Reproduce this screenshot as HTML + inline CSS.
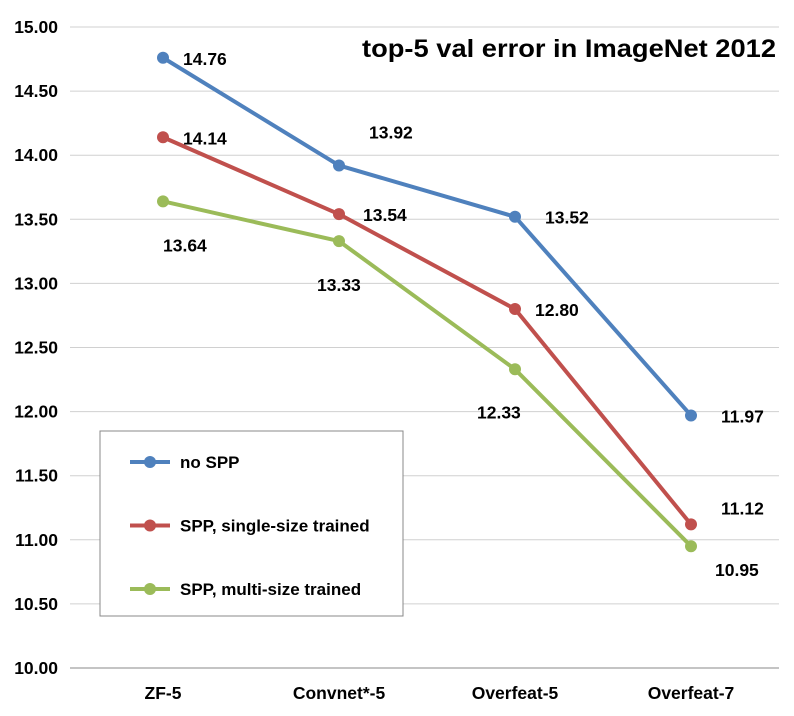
<!DOCTYPE html>
<html><head><meta charset="utf-8"><style>
body{margin:0;background:#fff}
svg text{font-family:"Liberation Sans",sans-serif;font-weight:bold;fill:#000}
</style></head><body>
<svg id="chart" width="794" height="711" xmlns="http://www.w3.org/2000/svg">
<g id="grid"></g>
<g id="yticks"></g>
<g id="xticks"></g>
<g id="series"></g>
<text x="362" y="57" font-size="25" textLength="414" lengthAdjust="spacingAndGlyphs">top-5 val error in ImageNet 2012</text>
<g>
<rect x="100" y="431" width="303" height="185" fill="#fff" stroke="#888" stroke-width="1"/>
<g id="legend"></g>
</g>
</svg>
<script>
const categories=["ZF-5","Convnet*-5","Overfeat-5","Overfeat-7"];
const yTicks=[10,10.5,11,11.5,12,12.5,13,13.5,14,14.5,15];
const noSPP=[14.76,13.92,13.52,11.97];
const sppSingle=[14.14,13.54,12.80,11.12];
const sppMulti=[13.64,13.33,12.33,10.95];
const seriesNames=["no SPP","SPP, single-size trained","SPP, multi-size trained"];
const colors=["#4F81BD","#C0504D","#9BBB59"];
const labelOffsets=[[[20,7],[30,-27],[30,7],[30,7]],[[20,7],[24,7],[20,7],[30,-10]],[[0,50],[-22,50],[-38,49],[24,30]]];
const NS="http://www.w3.org/2000/svg";
const x0=75,x1=779,yTop=27,yBot=668;
const xs=i=>x0+(i+0.5)*(x1-x0)/categories.length;
const ys=v=>yBot-(v-10)/5*(yBot-yTop);
function mk(tag,attrs,parent){const e=document.createElementNS(NS,tag);for(const k in attrs)e.setAttribute(k,attrs[k]);parent.appendChild(e);return e;}
const grid=document.getElementById('grid'),yt=document.getElementById('yticks'),xt=document.getElementById('xticks'),sg=document.getElementById('series'),lg=document.getElementById('legend');
yTicks.forEach(v=>{
 const l=mk('line',{x1:70,x2:x1,y1:ys(v),y2:ys(v),stroke:v===10?'#888':'#d0d0d0','stroke-width':1},grid);
 
 
 const t=mk('text',{x:58,y:ys(v)+6,'text-anchor':'end','font-size':17.5},yt);
 t.textContent=v.toFixed(2);
 
 
});
categories.forEach((c,i)=>{
 const t=mk('text',{x:xs(i),y:699,'text-anchor':'middle','font-size':17.5},xt);
 t.textContent=c;
 
 
});
[noSPP,sppSingle,sppMulti].forEach((d,s)=>{
 const g=mk('g',{},sg);
 
 
 const p=mk('polyline',{points:d.map((v,i)=>xs(i)+','+ys(v)).join(' '),fill:'none',stroke:colors[s],'stroke-width':4,'stroke-linejoin':'round'},g);
 
 
 d.forEach((v,i)=>{
  const c=mk('circle',{cx:xs(i),cy:ys(v),r:6,fill:colors[s]},g);
  
  
  const o=labelOffsets[s][i];
  const t=mk('text',{x:xs(i)+o[0],y:ys(v)+o[1],'font-size':17.5},g);
  t.textContent=v.toFixed(2);
  
  
 });
});
seriesNames.forEach((n,s)=>{
 const y=462+s*63.5;
 const g=mk('g',{},lg);
 
 
 mk('line',{x1:130,x2:170,y1:y,y2:y,stroke:colors[s],'stroke-width':4},g);
 mk('circle',{cx:150,cy:y,r:6,fill:colors[s]},g);
 const t=mk('text',{x:180,y:y+6,'font-size':17},g);
 t.textContent=n;
});
</script>
</body></html>
